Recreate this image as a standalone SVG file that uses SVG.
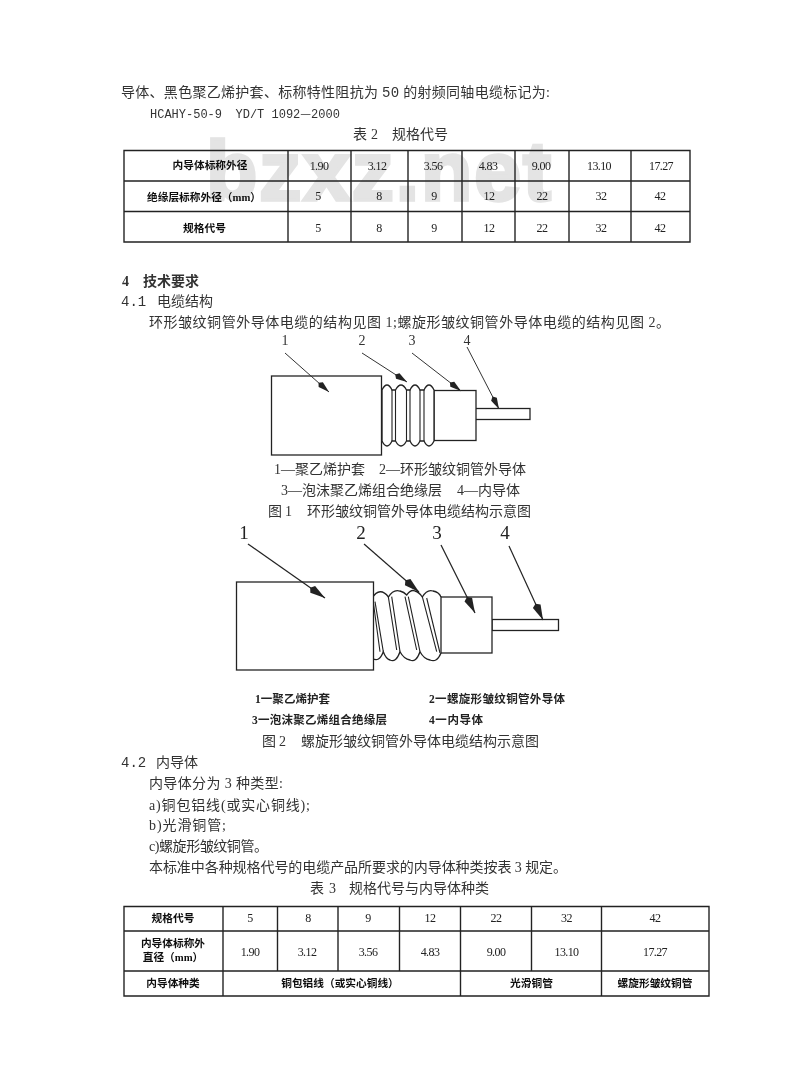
<svg xmlns="http://www.w3.org/2000/svg" width="800" height="1091" viewBox="0 0 800 1091">
<style>
text{font-family:"Liberation Serif","Noto Sans CJK SC",sans-serif;fill:#333;font-size:14px}
.m{font-family:"Liberation Mono","Noto Sans CJK SC",monospace}
.c{font-family:"Noto Sans CJK SC",sans-serif}
.h{font-size:12px;font-family:"Liberation Mono","Noto Sans CJK SC",monospace}
.t{font-size:10.700px;fill:#111;font-weight:600;text-anchor:middle}
.n{font-family:"Liberation Serif",serif;font-size:12px;letter-spacing:-0.600px;fill:#222;text-anchor:middle}
.b{font-weight:700;font-size:11.500px;fill:#222}
.d{font-family:"Liberation Serif",serif;font-size:14px;fill:#333;text-anchor:middle}
.d2{font-family:"Liberation Serif",serif;font-size:19px;fill:#222;text-anchor:middle}
.l{stroke:#222;stroke-width:1.100;fill:none}
.g{stroke:#222;stroke-width:1.300;fill:#fff}
.a{stroke:#333;stroke-width:1;fill:none;marker-end:url(#ah)}
.a2{stroke:#222;stroke-width:1.200;fill:none;marker-end:url(#ah2)}
</style>
<defs>
<marker id="ah" markerUnits="userSpaceOnUse" markerWidth="16" markerHeight="8" refX="14" refY="4" orient="auto"><path d="M0,4 L3,0.800 L14,4 L3,7.200 Z" fill="#222"/></marker>
<marker id="ah2" markerUnits="userSpaceOnUse" markerWidth="20" markerHeight="10" refX="18" refY="5" orient="auto"><path d="M0,5 L3,0.800 L18,5 L3,9.200 Z" fill="#222"/></marker>
<filter id="s" filterUnits="userSpaceOnUse" x="0" y="0" width="800" height="1091"><feGaussianBlur stdDeviation="0.350"/></filter>
</defs>
<rect width="800" height="1091" fill="#fff"/>
<text x="206" y="200" style="font-family:'Liberation Sans',sans-serif;font-size:84px;font-weight:700;fill:#e4e4e4;stroke:#e4e4e4;stroke-width:3.500px" textLength="345">bzxz.net</text>
<g filter="url(#s)">
<g id="body-text">
<text x="121" y="97" textLength="429">导体、黑色聚乙烯护套、标称特性阻抗为 <tspan class="m">50</tspan> 的射频同轴电缆标记为:</text>
<text x="150" y="118" class="h">HCAHY-50-9<tspan x="235.500">YD/T 1092</tspan><tspan class="c">—</tspan>2000</text>
<text x="353" y="139">表<tspan x="371">2</tspan><tspan x="392">规格代号</tspan></text>
<text x="122" y="286" style="font-weight:700">4<tspan x="143">技术要求</tspan></text>
<text x="121" y="306"><tspan class="m">4.1</tspan><tspan x="157">电缆结构</tspan></text>
<text x="149" y="327" textLength="521">环形皱纹铜管外导体电缆的结构见图 1;螺旋形皱纹铜管外导体电缆的结构见图 2。</text>
<text x="121" y="767"><tspan class="m">4.2</tspan><tspan x="156">内导体</tspan></text>
<text x="149" y="788" textLength="134">内导体分为 3 种类型:</text>
<text x="149" y="810" textLength="161">a)铜包铝线(或实心铜线);</text>
<text x="149" y="830" textLength="77">b)光滑铜管;</text>
<text x="149" y="851" textLength="119">c)螺旋形皱纹铜管。</text>
<text x="149" y="872" textLength="418">本标准中各种规格代号的电缆产品所要求的内导体种类按表 3 规定。</text>
<text x="310" y="893">表<tspan x="329">3</tspan><tspan x="349">规格代号与内导体种类</tspan></text>
</g>
<g id="table-2">
<path class="l" style="stroke-width:1.400" d="M124 150.500H690V242H124ZM124 181H690M124 211.500H690M288 150.500V242M351 150.500V242M408 150.500V242M462 150.500V242M515 150.500V242M569 150.500V242M631 150.500V242"/>
<text class="t" x="210" y="169">内导体标称外径</text>
<text class="t" x="204" y="201">绝缘层标称外径（mm）</text>
<text class="t" x="204.500" y="232">规格代号</text>
<text class="n" x="319" y="170">1.90</text><text class="n" x="377" y="170">3.12</text><text class="n" x="433" y="170">3.56</text><text class="n" x="488" y="170">4.83</text><text class="n" x="541" y="170">9.00</text><text class="n" x="599" y="170">13.10</text><text class="n" x="661" y="170">17.27</text>
<text class="n" x="318" y="200">5</text><text class="n" x="379" y="200">8</text><text class="n" x="434" y="200">9</text><text class="n" x="489" y="200">12</text><text class="n" x="542" y="200">22</text><text class="n" x="601" y="200">32</text><text class="n" x="660" y="200">42</text>
<text class="n" x="318" y="231.500">5</text><text class="n" x="379" y="231.500">8</text><text class="n" x="434" y="231.500">9</text><text class="n" x="489" y="231.500">12</text><text class="n" x="542" y="231.500">22</text><text class="n" x="601" y="231.500">32</text><text class="n" x="660" y="231.500">42</text>
</g>
<g id="figure-1">
<g id="f1-conductor"><rect class="g" x="475" y="408.500" width="55" height="11"/></g>
<g id="f1-insulation"><rect class="g" x="434" y="390.500" width="42" height="50"/></g>
<g id="f1-corrugated">
<path class="g" d="M382 390Q387 380 392 390H395.500Q401 380 406.500 390H410Q415 380 420 390H424Q429 380 434 390V441Q429 451 424 441H420Q415 451 410 441H406.500Q401 451 395.500 441H392Q387 451 382 441Z"/>
<path class="l" d="M392 390V441M395.500 390V441M406.500 390V441M410 390V441M420 390V441M424 390V441"/>
</g>
<g id="f1-jacket"><rect class="g" x="271.500" y="376" width="110" height="79"/></g>
<text class="d" x="285" y="345">1</text><text class="d" x="362" y="345">2</text><text class="d" x="412" y="345">3</text><text class="d" x="467" y="345">4</text>
<text x="274" y="474">1—聚乙烯护套<tspan x="379">2—环形皱纹铜管外导体</tspan></text>
<text x="281" y="495">3—泡沫聚乙烯组合绝缘层<tspan x="457">4—内导体</tspan></text>
<text x="268" y="516">图<tspan x="285">1</tspan><tspan x="307">环形皱纹铜管外导体电缆结构示意图</tspan></text>
</g>
<g id="figure-2">
<g id="f2-conductor"><rect class="g" x="492" y="619.500" width="66.500" height="11"/></g>
<g id="f2-insulation"><rect class="g" x="440" y="597" width="52" height="56"/></g>
<g id="f2-corrugated">
<path class="g" d="M372 598Q380 586 388.500 597Q393 589 400 591Q404 592 406.700 595Q411 589 415 591Q419 592 422.300 597Q427 589 433 591Q439 592 441 597V653Q437 663 430 660Q424 659 420 651.700Q416 663 410 660Q404 659 400 651.700Q396 663 390 660Q386 659 383.300 651.700Q379 663 372.300 658.300Z"/>
<path class="l" d="M373 600L380 651.700M375 601.700L383.300 651.700M388.300 596.700L396.700 650M391.700 596.700L400 651.700M405 596.700L416.700 650M408.300 596.700L420 651.700M422.300 596.700L436.700 651.700M426.700 598L440 653"/>
</g>
<g id="f2-jacket"><rect class="g" x="236.500" y="582" width="137" height="88"/></g>
<text class="d2" x="244" y="539">1</text><text class="d2" x="361" y="539">2</text><text class="d2" x="437" y="539">3</text><text class="d2" x="505" y="539">4</text>
<text class="b" x="255" y="703" textLength="75">1一聚乙烯护套</text>
<text class="b" x="429" y="703" textLength="136">2一螺旋形皱纹铜管外导体</text>
<text class="b" x="252" y="724" textLength="135">3一泡沫聚乙烯组合绝缘层</text>
<text class="b" x="429" y="724" textLength="54">4一内导体</text>
<text x="262" y="746">图<tspan x="279">2</tspan><tspan x="301">螺旋形皱纹铜管外导体电缆结构示意图</tspan></text>
</g>
<g id="table-3">
<path class="l" style="stroke-width:1.400" d="M124 906.500H709V996H124ZM124 931H709M124 971H709M223 906.500V996M277.500 906.500V971M338 906.500V971M399.500 906.500V971M460.500 906.500V996M531.500 906.500V971M601.500 906.500V996"/>
<text class="t" x="173" y="922">规格代号</text>
<text class="t" x="173" y="947">内导体标称外</text><text class="t" x="173" y="961">直径（mm）</text>
<text class="t" x="173" y="987">内导体种类</text>
<text class="n" x="250" y="922">5</text><text class="n" x="308" y="922">8</text><text class="n" x="368" y="922">9</text><text class="n" x="430" y="922">12</text><text class="n" x="496" y="922">22</text><text class="n" x="566.500" y="922">32</text><text class="n" x="655" y="922">42</text>
<text class="n" x="250" y="956">1.90</text><text class="n" x="307" y="956">3.12</text><text class="n" x="368" y="956">3.56</text><text class="n" x="430" y="956">4.83</text><text class="n" x="496" y="956">9.00</text><text class="n" x="566.500" y="956">13.10</text><text class="n" x="655" y="956">17.27</text>
<text class="t" x="340" y="987">铜包铝线（或实心铜线）</text>
<text class="t" x="531.500" y="987">光滑铜管</text>
<text class="t" x="655" y="987">螺旋形皱纹铜管</text>
</g>
<g id="connectors">
<line class="a" x1="285" y1="353" x2="329" y2="392"/>
<line class="a" x1="362" y1="353" x2="407" y2="382"/>
<line class="a" x1="412" y1="353" x2="461" y2="391"/>
<line class="a" x1="467" y1="347" x2="499" y2="409"/>
<line class="a2" x1="248" y1="544" x2="325" y2="598"/>
<line class="a2" x1="364" y1="544" x2="419" y2="592"/>
<line class="a2" x1="441" y1="545" x2="475" y2="613"/>
<line class="a2" x1="509" y1="546" x2="543" y2="620"/>
</g>
</g>
</svg>
